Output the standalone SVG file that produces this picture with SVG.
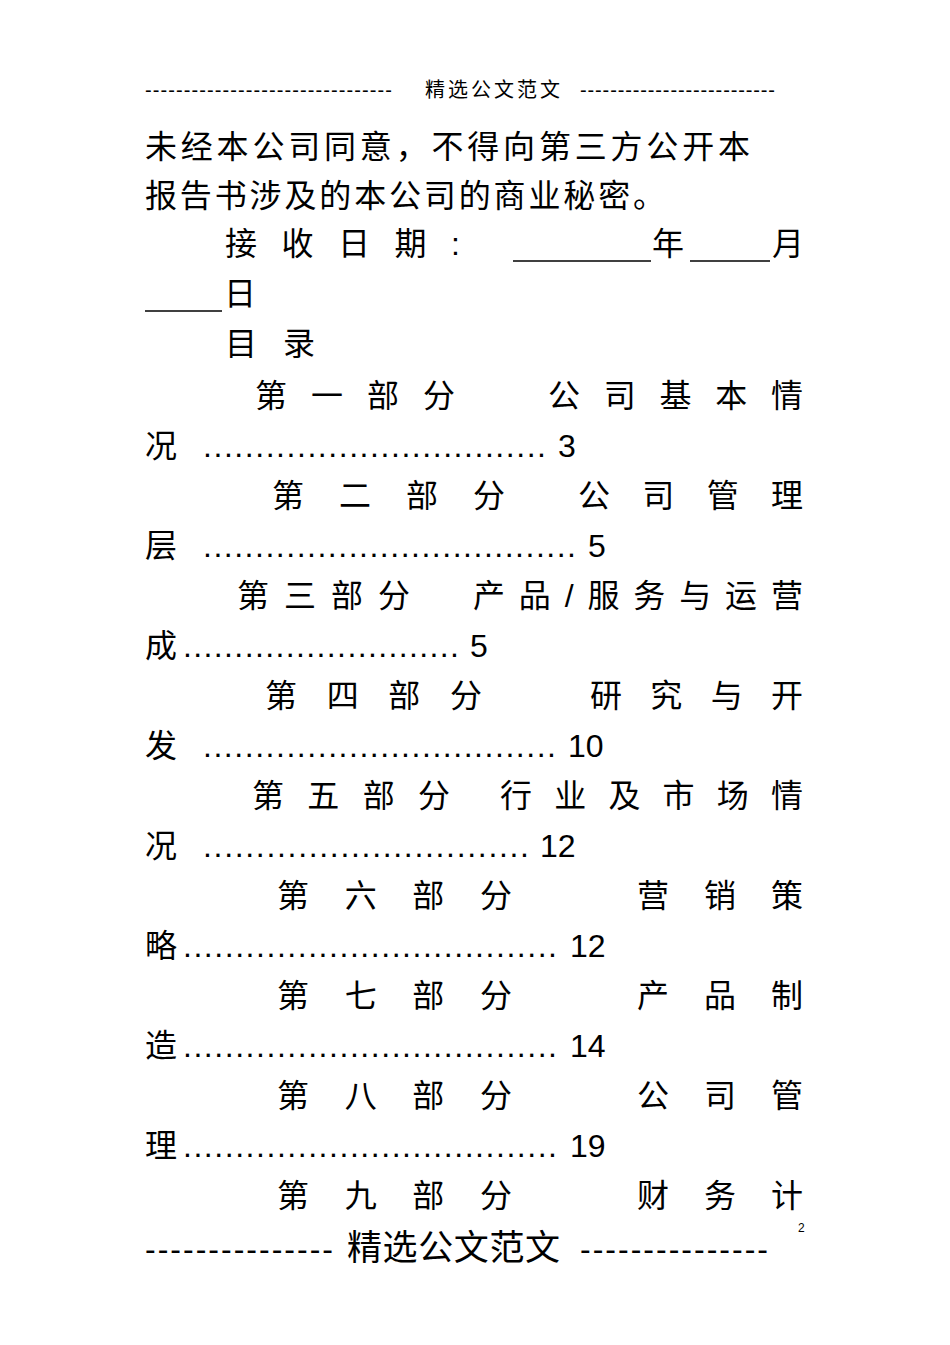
<svg xmlns="http://www.w3.org/2000/svg" width="950" height="1345" viewBox="0 0 950 1345">
<style>
text{font-family:"Liberation Sans","Noto Sans CJK SC",sans-serif;fill:#000}
.b{font-size:32px}
.h{font-size:20px}
.u{stroke:#000;stroke-width:1.6}
</style>
<rect width="950" height="1345" fill="#fff"/>
<text class="h" x="145" y="97" textLength="247" lengthAdjust="spacing">--------------------------------</text>
<text class="h" x="425" y="97" textLength="135" lengthAdjust="spacing">精选公文范文</text>
<text class="h" x="580" y="97" textLength="195" lengthAdjust="spacing">--------------------------</text>
<text class="b" x="145" y="158" textLength="605" lengthAdjust="spacing">未经本公司同意，不得向第三方公开本</text>
<text class="b" x="145" y="207" textLength="520" lengthAdjust="spacing">报告书涉及的本公司的商业秘密。</text>
<text class="b" x="225" y="255" textLength="235" lengthAdjust="spacing">接收日期:</text>
<line class="u" x1="513" y1="261" x2="651" y2="261"/>
<text class="b" x="652" y="255">年</text>
<line class="u" x1="690" y1="261" x2="770" y2="261"/>
<text class="b" x="772" y="255">月</text>
<line class="u" x1="145" y1="311" x2="222" y2="311"/>
<text class="b" x="224" y="305">日</text>
<text class="b" x="225" y="355" textLength="90" lengthAdjust="spacing">目录</text>
<g class="b">
<text class="b" x="255" y="407" textLength="200" lengthAdjust="spacing">第一部分</text>
<text class="b" x="548" y="407" textLength="255" lengthAdjust="spacing">公司基本情</text>
<text class="b" x="145" y="457">况</text>
<text class="b" x="203" y="457" textLength="343" lengthAdjust="spacing">.................................</text>
<text class="b" x="558" y="457">3</text>
<text class="b" x="272" y="507" textLength="233" lengthAdjust="spacing">第二部分</text>
<text class="b" x="578" y="507" textLength="225" lengthAdjust="spacing">公司管理</text>
<text class="b" x="145" y="557">层</text>
<text class="b" x="203" y="557" textLength="373" lengthAdjust="spacing">....................................</text>
<text class="b" x="588" y="557">5</text>
<text class="b" x="237" y="607" textLength="173" lengthAdjust="spacing">第三部分</text>
<text class="b" x="473" y="607" textLength="330" lengthAdjust="spacing">产品/服务与运营</text>
<text class="b" x="145" y="657">成</text>
<text class="b" x="183" y="657" textLength="276" lengthAdjust="spacing">...........................</text>
<text class="b" x="470" y="657">5</text>
<text class="b" x="265" y="707" textLength="217" lengthAdjust="spacing">第四部分</text>
<text class="b" x="590" y="707" textLength="213" lengthAdjust="spacing">研究与开</text>
<text class="b" x="145" y="757">发</text>
<text class="b" x="203" y="757" textLength="353" lengthAdjust="spacing">..................................</text>
<text class="b" x="568" y="757">10</text>
<text class="b" x="252" y="807" textLength="198" lengthAdjust="spacing">第五部分</text>
<text class="b" x="500" y="807" textLength="303" lengthAdjust="spacing">行业及市场情</text>
<text class="b" x="145" y="857">况</text>
<text class="b" x="203" y="857" textLength="326" lengthAdjust="spacing">...............................</text>
<text class="b" x="540" y="857">12</text>
<text class="b" x="277" y="907" textLength="235" lengthAdjust="spacing">第六部分</text>
<text class="b" x="637" y="907" textLength="166" lengthAdjust="spacing">营销策</text>
<text class="b" x="145" y="957">略</text>
<text class="b" x="183" y="957" textLength="374" lengthAdjust="spacing">....................................</text>
<text class="b" x="570" y="957">12</text>
<text class="b" x="277" y="1007" textLength="235" lengthAdjust="spacing">第七部分</text>
<text class="b" x="637" y="1007" textLength="166" lengthAdjust="spacing">产品制</text>
<text class="b" x="145" y="1057">造</text>
<text class="b" x="183" y="1057" textLength="374" lengthAdjust="spacing">....................................</text>
<text class="b" x="570" y="1057">14</text>
<text class="b" x="277" y="1107" textLength="235" lengthAdjust="spacing">第八部分</text>
<text class="b" x="637" y="1107" textLength="166" lengthAdjust="spacing">公司管</text>
<text class="b" x="145" y="1157">理</text>
<text class="b" x="183" y="1157" textLength="374" lengthAdjust="spacing">....................................</text>
<text class="b" x="570" y="1157">19</text>
<text class="b" x="277" y="1207" textLength="235" lengthAdjust="spacing">第九部分</text>
<text class="b" x="637" y="1207" textLength="166" lengthAdjust="spacing">财务计</text>
</g>
<text x="798" y="1232" style="font-size:12px">2</text>
<text class="b" x="145" y="1260" textLength="188" lengthAdjust="spacing">---------------</text>
<text class="b" x="347" y="1260" style="font-size:35px" textLength="213" lengthAdjust="spacing">精选公文范文</text>
<text class="b" x="580" y="1260" textLength="188" lengthAdjust="spacing">---------------</text>
</svg>
